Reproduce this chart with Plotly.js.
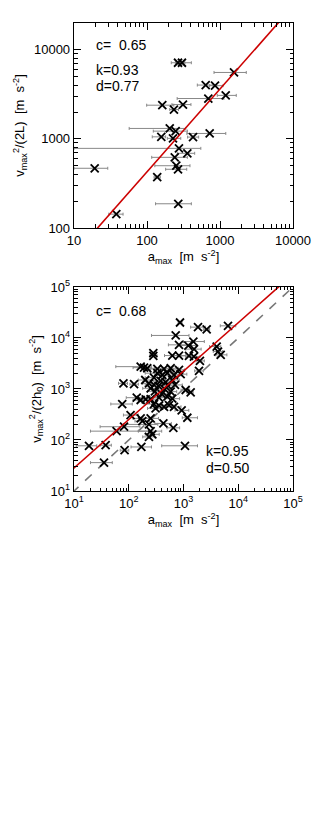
<!DOCTYPE html>
<html><head><meta charset="utf-8">
<script src="https://cdn.plot.ly/plotly-3.0.1.min.js"></script>
<style>html,body{margin:0;padding:0;background:#fff}#c{width:314px;height:827px}</style>
</head><body><div id="c"></div>
<script>
// ---- top panel data ----
const topX   = [266, 301, 1555, 637, 855, 1197, 692, 162, 234, 311, 205, 247, 157, 227, 427, 722, 274, 357, 240, 252, 266, 19.2, 138, 268, 38];
const topY   = [7160, 7160, 5570, 4020, 3960, 3080, 2840, 2390, 2136, 2430, 1310, 1222, 1055, 1014, 1048, 1151, 783, 689, 621, 500, 456, 468, 372, 187, 143];
const topXlo = [215, 245, 828, 489, 720, 918, 259, 99, 205, 220, 57, 122, 118, 190, 360, 352, 10, 260, 116, 128, 180, 10, 125, 131, 30];
const topXhi = [330, 405, 2290, 800, 1100, 1670, 1130, 233, 270, 400, 340, 357, 180, 290, 510, 1200, 546, 450, 357, 388, 350, 29, 152, 405, 47];
const topK = 0.93, topD = 0.77, topC = 0.65;

// ---- bottom panel data ----
const botX = [863,1841,2650,6500,720,828,1225,1514,1556,4040,4270,4780,281,281,625,828,1259,1549,1995,1919,
  165,190,218,333,441,583,828,333,410,507,670,887,289,80,125,234,289,383,472,625,1096,251,1352,583,
  140,165,204,251,357,507,625,76,289,357,441,543,670,309,925,1175,108,165,177,251,82,60,234,429,652,
  251,270,234,18.8,37.8,84,170,1064,35.3,200,350,450,300,520,400,700];
const botY = [20100,16300,14700,17300,11200,7330,7110,8510,6040,6790,5420,4670,5040,4460,4520,4520,4460,4310,3550,2260,
  2740,2620,2550,2470,2470,2550,2370,2040,1880,2040,1880,1950,1670,1290,1240,1290,1200,1440,1360,1500,955,1030,861,887,
  675,608,627,631,676,708,646,507,507,470,447,484,447,417,381,273,308,265,235,265,182,149,202,211,173,
  149,129,115,77,79,63,73,77,36,1500,1150,1000,900,1150,800,1200];
const botXlo = [800,1350,2300,4700,260,530,900,1000,1100,3000,3500,3900,250,240,450,600,900,1100,1700,1600,
  58,120,150,250,300,420,650,200,300,350,500,700,200,65,105,180,200,280,350,450,900,180,1150,450,
  90,120,150,180,250,380,450,47,200,260,320,400,500,220,700,950,80,120,130,180,30,20,80,300,500,
  150,200,180,11,30,70,110,400,20,150,260,330,220,400,300,500];
const botXhi = [940,2500,3000,9000,1260,1260,1700,2400,2100,4800,5200,6200,320,330,800,1100,1600,2000,2400,2300,
  200,260,300,450,600,800,1050,500,550,700,900,1150,400,95,150,320,380,520,650,850,1300,340,1500,750,
  210,230,280,340,500,680,850,116,400,480,600,720,900,420,1250,1800,150,230,240,350,160,234,340,600,850,
  400,360,300,26,48,100,260,1800,50,260,480,600,420,700,550,950];
const botK = 0.95, botD = 0.50, botC = 0.68;

const FONT = 'Liberation Sans, Arial, sans-serif';

function ptsTrace(x, y, lo, hi, xa, ya) {
  return {
    x: x, y: y, xaxis: xa, yaxis: ya, type: 'scatter', mode: 'markers',
    marker: {symbol: 'x-thin', size: 8, color: '#000', line: {color: '#000', width: 1.8}},
    error_x: {type: 'data', symmetric: false,
      array: x.map((v, i) => hi[i] - v), arrayminus: x.map((v, i) => v - lo[i]),
      color: '#888', thickness: 1, width: 1.5},
    showlegend: false, hoverinfo: 'skip'
  };
}
function fitTrace(k, d, xa, ya, color, dash) {
  const xs = [1, 1e6];
  return {x: xs, y: xs.map(v => Math.pow(10, d) * Math.pow(v, k)), xaxis: xa, yaxis: ya,
    type: 'scatter', mode: 'lines', line: {color: color, width: 1.6, dash: dash},
    showlegend: false, hoverinfo: 'skip'};
}

const data = [
  ptsTrace(topX, topY, topXlo, topXhi, 'x', 'y'),
  fitTrace(topK, topD, 'x', 'y', '#cc0000', 'solid'),
  fitTrace(1, 0, 'x2', 'y2', '#777777', 'dash'),
  ptsTrace(botX, botY, botXlo, botXhi, 'x2', 'y2'),
  fitTrace(botK, botD, 'x2', 'y2', '#cc0000', 'solid')
];

function ax(extra) {
  return Object.assign({
    type: 'log', showgrid: false, zeroline: false, showline: true, linecolor: '#000', linewidth: 1.3,
    mirror: 'allticks', ticks: 'inside', ticklen: 7, tickwidth: 1, tickcolor: '#000',
    minor: {ticks: 'inside', ticklen: 3.5, tickwidth: 1, tickcolor: '#000', showgrid: false, dtick: 'D1'},
    tickfont: {family: FONT, size: 13, color: '#000'}
  }, extra);
}
const ttl = (t, s) => ({text: t, font: {family: FONT, size: 13, color: '#000'}, standoff: s});

const layout = {
  width: 314, height: 827, paper_bgcolor: '#fff', plot_bgcolor: '#fff',
  margin: {l: 74, r: 21, t: 23, b: 336},
  xaxis: ax({domain: [0, 1], anchor: 'y', range: [1, 4],
    tickvals: [10, 100, 1000, 10000], ticktext: ['10', '100', '1000', '10000'],
    title: ttl('a<sub>max</sub>  [m  s<sup>-2</sup>]', 4)}),
  yaxis: ax({domain: [0.562, 1], anchor: 'x', range: [2, Math.log10(20000)],
    tickvals: [100, 1000, 10000], ticktext: ['100', '1000', '10000'],
    title: ttl('v<sub>max</sub><sup>2</sup>/(2L)  [m  s<sup>-2</sup>]', 6)}),
  xaxis2: ax({domain: [0, 1], anchor: 'y2', range: [1, 5],
    tickvals: [10, 100, 1000, 10000, 100000],
    ticktext: ['10<sup>1</sup>', '10<sup>2</sup>', '10<sup>3</sup>', '10<sup>4</sup>', '10<sup>5</sup>'],
    title: ttl('a<sub>max</sub>  [m  s<sup>-2</sup>]', 4)}),
  yaxis2: ax({domain: [0, 0.436], anchor: 'x2', range: [1, 5],
    tickvals: [10, 100, 1000, 10000, 100000],
    ticktext: ['10<sup>1</sup>', '10<sup>2</sup>', '10<sup>3</sup>', '10<sup>4</sup>', '10<sup>5</sup>'],
    title: ttl('v<sub>max</sub><sup>2</sup>/(2h<sub>0</sub>)  [m  s<sup>-2</sup>]', 6)}),
  annotations: [
    {xref: 'paper', yref: 'paper', x: 0.09, y: 0.953, xanchor: 'left', yanchor: 'middle', showarrow: false,
      text: 'c=  ' + topC.toFixed(2), font: {family: FONT, size: 14, color: '#000'}},
    {xref: 'paper', yref: 'paper', x: 0.09, y: 0.9, xanchor: 'left', yanchor: 'middle', showarrow: false,
      text: 'k=' + topK.toFixed(2), font: {family: FONT, size: 14, color: '#000'}},
    {xref: 'paper', yref: 'paper', x: 0.09, y: 0.866, xanchor: 'left', yanchor: 'middle', showarrow: false,
      text: 'd=' + topD.toFixed(2), font: {family: FONT, size: 14, color: '#000'}},
    {xref: 'paper', yref: 'paper', x: 0.09, y: 0.385, xanchor: 'left', yanchor: 'middle', showarrow: false,
      text: 'c=  ' + botC.toFixed(2), font: {family: FONT, size: 14, color: '#000'}},
    {xref: 'paper', yref: 'paper', x: 0.595, y: 0.085, xanchor: 'left', yanchor: 'middle', showarrow: false,
      text: 'k=' + botK.toFixed(2), font: {family: FONT, size: 14, color: '#000'}},
    {xref: 'paper', yref: 'paper', x: 0.595, y: 0.05, xanchor: 'left', yanchor: 'middle', showarrow: false,
      text: 'd=' + botD.toFixed(2), font: {family: FONT, size: 14, color: '#000'}}
  ]
};
Plotly.newPlot('c', data, layout, {displayModeBar: false, staticPlot: true});
</script></body></html>
